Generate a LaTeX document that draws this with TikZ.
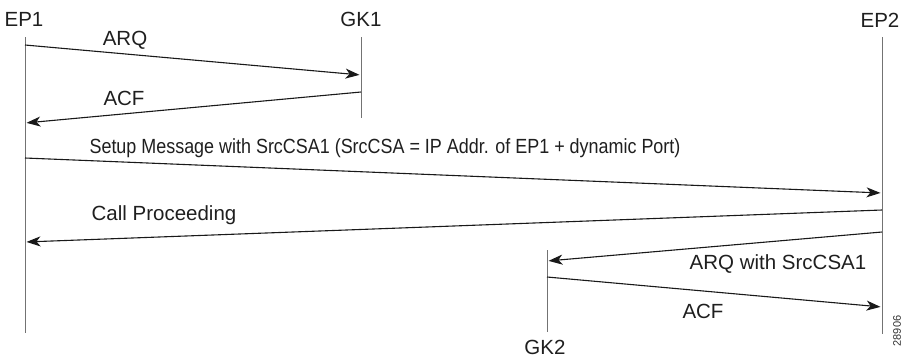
\documentclass[tikz,border=0pt]{standalone}
\usepackage{fontspec}
\setmainfont{Liberation Sans}
\usetikzlibrary{arrows.meta}
\begin{document}
\begin{tikzpicture}[x=1pt,y=-1pt,
  lbl/.style={font=\fontsize{20.5}{23}\selectfont, inner sep=0pt, text=black!88},
  life/.style={draw=black!55, line width=1pt},
  msg/.style={draw=black!90, line width=1.1pt, -{Stealth[length=14pt,width=10pt,inset=4pt]}, shorten >=1.5pt, shorten <=0pt}]
\useasboundingbox (0,0) rectangle (904,360);
% participants
\node[lbl] (ep1) at (24,19) {EP1};
\node[lbl] (gk1) at (361,19) {GK1};
\node[lbl] (ep2) at (880,20) {EP2};
\node[lbl] (gk2) at (545,347) {GK2};
\node[font=\fontsize{11}{12}\selectfont, rotate=90, inner sep=0pt, text=black!80] (fig) at (897,331) {28906};
% lifeline ends
\coordinate (ep1t) at (25,37);  \coordinate (ep1b) at (25,333);
\coordinate (gk1t) at (361,37); \coordinate (gk1b) at (361,118);
\coordinate (ep2t) at (882,37); \coordinate (ep2b) at (882,334);
\coordinate (gk2t) at (547,250);\coordinate (gk2b) at (547,332);
\draw[life] (ep1t) -- (ep1b);
\draw[life] (gk1t) -- (gk1b);
\draw[life] (ep2t) -- (ep2b);
\draw[life] (gk2t) -- (gk2b);
% message endpoints
\coordinate (a1) at (25,45);   \coordinate (a2) at (361,75);
\coordinate (b1) at (361,92);  \coordinate (b2) at (25,123);
\coordinate (c1) at (25,158);  \coordinate (c2) at (882,193);
\coordinate (d1) at (882,210); \coordinate (d2) at (25,242);
\coordinate (e1) at (882,232); \coordinate (e2) at (547,261);
\coordinate (f1) at (547,277); \coordinate (f2) at (882,307);
\draw[msg] (a1) -- (a2);
\draw[msg] (b1) -- (b2);
\draw[msg] (c1) -- (c2);
\draw[msg] (d1) -- (d2);
\draw[msg] (e1) -- (e2);
\draw[msg] (f1) -- (f2);
% labels
\node[lbl] (la) at (125,40) {ARQ};
\node[lbl] (lb) at (124,98) {ACF};
\node[lbl, xscale=0.875] (lc) at (385,148) {Setup Message with SrcCSA1 (SrcCSA = IP Addr. of EP1 + dynamic Port)};
\node[lbl] (ld) at (164,215) {Call Proceeding};
\node[lbl] (le) at (778,264) {ARQ with SrcCSA1};
\node[lbl] (lf) at (703,311) {ACF};
\end{tikzpicture}
\end{document}
